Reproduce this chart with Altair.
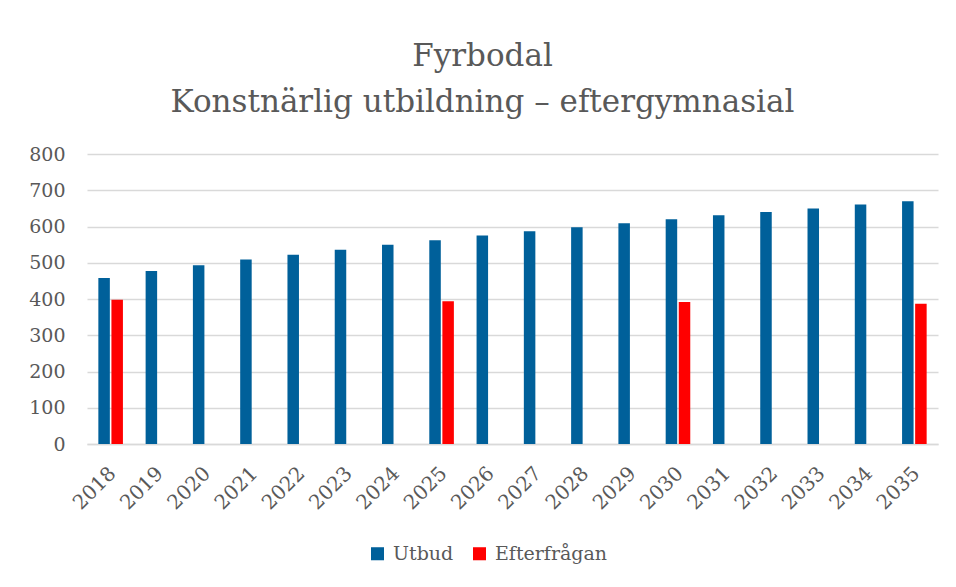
import altair as alt
import pandas as pd

years = [str(y) for y in range(2018, 2036)]
utbud = [458, 477, 493, 509, 522, 536, 550, 562, 575, 587, 598, 609, 620, 631, 640, 650, 661, 670]
efter_years = ["2018", "2025", "2030", "2035"]
efter = [398, 394, 392, 387]

series = ["Utbud", "Efterfrågan"]
colors = ["#00609A", "#FF0000"]

rows = [{"År": y, "Serie": "Utbud", "Antal": v} for y, v in zip(years, utbud)]
rows += [{"År": y, "Serie": "Efterfrågan", "Antal": v} for y, v in zip(efter_years, efter)]
df = pd.DataFrame(rows)

FONT = "DejaVu Serif"
GRAY = "#595959"

chart = alt.Chart(df).mark_bar().encode(
    x=alt.X("År:N", sort=years, title=None,
            scale=alt.Scale(paddingInner=0.48, paddingOuter=0.24),
            axis=alt.Axis(labelAngle=-45, labelFontSize=20, labelColor=GRAY, labelFont=FONT,
                          ticks=False, domainColor="#d9d9d9", domainWidth=1.5, labelPadding=19,
                          labelOffset=-5)),
    xOffset=alt.XOffset("Serie:N", sort=series, scale=alt.Scale(domain=series, paddingInner=0.12)),
    y=alt.Y("Antal:Q", title=None,
            scale=alt.Scale(domain=[0, 800]),
            axis=alt.Axis(values=list(range(0, 801, 100)), labelFontSize=19, labelColor=GRAY,
                          labelFont=FONT, ticks=False, domain=False, gridColor="#d9d9d9",
                          gridWidth=1.5, labelPadding=22, minExtent=60, maxExtent=60)),
    color=alt.Color("Serie:N", sort=series,
                    scale=alt.Scale(domain=series, range=colors),
                    legend=alt.Legend(title=None, orient="none", direction="horizontal",
                                      legendX=281, legendY=390, symbolType="square",
                                      symbolSize=170, symbolStrokeWidth=0, labelFontSize=19,
                                      labelFont=FONT, labelColor=GRAY, columnPadding=16,
                                      labelOffset=6)),
).properties(
    width=851,
    height=290,
    padding={"left": 19, "top": 33, "right": 10, "bottom": 10},
    title=alt.Title(["Fyrbodal", "Konstnärlig utbildning – eftergymnasial"],
                    fontSize=31, font=FONT, color=GRAY, fontWeight="normal",
                    lineHeight=46, offset=26, anchor="middle", frame="bounds"),
).configure(background="white").configure_view(stroke=None)

chart.save("out.html", embed_options={"renderer": "svg", "actions": False})
